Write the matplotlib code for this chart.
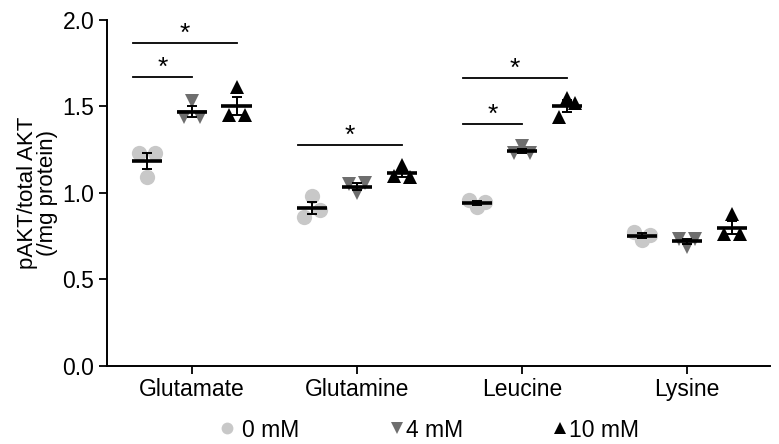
import matplotlib
matplotlib.use("Agg")
import matplotlib.pyplot as plt
import numpy as np
from matplotlib.lines import Line2D

plt.rcParams['font.family'] = ['Liberation Sans', 'DejaVu Sans']

categories = ["Glutamate", "Glutamine", "Leucine", "Lysine"]
series_labels = ["0 mM", "4 mM", "10 mM"]

# individual replicate values (3 per category) for each concentration
vals_0mM = [[1.23, 1.23, 1.09], [0.86, 0.90, 0.98], [0.96, 0.95, 0.92], [0.775, 0.757, 0.728]]
vals_4mM = [[1.44, 1.44, 1.53], [1.05, 1.06, 1.00], [1.23, 1.23, 1.27], [0.735, 0.735, 0.69]]
vals_10mM = [[1.45, 1.45, 1.61], [1.10, 1.09, 1.16], [1.44, 1.52, 1.55], [0.76, 0.76, 0.88]]

# significance brackets: (category index, series from, series to, bar height)
sig_cat = [0, 0, 1, 2, 2]
sig_from = [0, 0, 0, 0, 0]
sig_to = [1, 2, 2, 1, 2]
sig_y = [1.67, 1.865, 1.275, 1.40, 1.665]

all_series = [vals_0mM, vals_4mM, vals_10mM]
markers = ['o', 'v', '^']
colors = ['#c8c8c8', '#6e6e6e', '#000000']
offsets = [-0.272, 0.0, 0.272]
jitter = [-0.048, 0.048, 0.0]
FS = 16.5

W, H = 779, 444
fig = plt.figure(figsize=(W / 100, H / 100), dpi=100)
ax = fig.add_axes([0.137, 0.176, 0.851, 0.779])

x = np.arange(len(categories))
for s, vals in enumerate(all_series):
    for c, v in enumerate(vals):
        v = np.array(v)
        xs = x[c] + offsets[s] + np.array(jitter)
        ax.plot(xs, v, linestyle='none', marker=markers[s], color=colors[s],
                markersize=11 if s == 0 else 10.5, markeredgewidth=0, zorder=2)
for s, vals in enumerate(all_series):
    for c, v in enumerate(vals):
        v = np.array(v)
        m = v.mean()
        sem = v.std(ddof=1) / np.sqrt(len(v))
        xc = x[c] + offsets[s]
        ax.hlines(m, xc - 0.092, xc + 0.092, color='black', linewidth=2.6, zorder=4)
        ax.errorbar(xc, m, yerr=sem, fmt='none', ecolor='black', elinewidth=1.4,
                    capsize=3.5, capthick=1.4, zorder=4)

for c, a, b, y in zip(sig_cat, sig_from, sig_to, sig_y):
    x0 = x[c] + offsets[a] - 0.085
    x1 = x[c] + offsets[b]
    ax.plot([x0, x1], [y, y], color='black', linewidth=1.3)
    ax.text((x0 + x1) / 2, y + 0.012, '*', ha='center', va='baseline', fontsize=19)

ax.set_xlim(-0.515, 3.5)
ax.set_ylim(0, 2.0)
ax.set_yticks([0, 0.5, 1.0, 1.5, 2.0])
ax.set_yticklabels(['0.0', '0.5', '1.0', '1.5', '2.0'])
ax.set_xticks(x)
ax.set_xticklabels(categories)
ax.tick_params(axis='both', labelsize=FS, width=1.3, length=6, color='black', pad=3)
for sp in ['top', 'right']:
    ax.spines[sp].set_visible(False)
for sp in ['left', 'bottom']:
    ax.spines[sp].set_linewidth(1.4)
ax.set_ylabel('pAKT/total AKT\n(/mg protein)', fontsize=16, linespacing=0.95, labelpad=3)

# legend below the axes, placed in figure pixel coordinates
leg_marker_px = [227, 397, 560]
leg_text_px = [242, 406, 569]
leg_y = 1 - 428 / H
for i in range(3):
    fig.add_artist(Line2D([leg_marker_px[i] / W], [leg_y], transform=fig.transFigure,
                          linestyle='none', marker=markers[i], color=colors[i],
                          markersize=8.5 if i == 0 else 8, markeredgewidth=0))
    fig.text(leg_text_px[i] / W, leg_y, series_labels[i], ha='left', va='center_baseline',
             fontsize=FS)

fig.savefig('out.png', dpi=100)
